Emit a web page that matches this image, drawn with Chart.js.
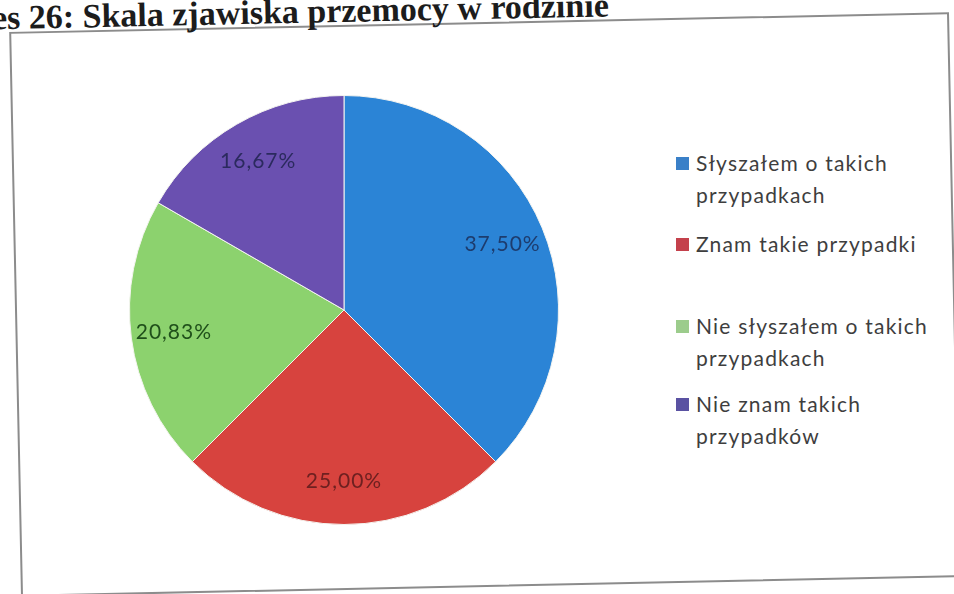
<!DOCTYPE html>
<html>
<head>
<meta charset="utf-8">
<script src="https://cdn.jsdelivr.net/npm/chart.js@4"></script>
<style>
  body { margin: 0; background: #fff; }
  #page { position: relative; width: 954px; height: 594px; overflow: hidden; background: #fff; }
  #frame { position: absolute; left: 15px; top: 22px; width: 936px; height: 561px;
    border: 2px solid #8c8c8c; transform: rotate(-1.2deg); }
  #title { position: absolute; left: -91px; top: 0px; white-space: nowrap;
    font: bold 34px "Liberation Serif", "Times New Roman", serif; line-height: 34px; color: #1c1c1c;
    transform-origin: 145px 28px; transform: rotate(-1.2deg); }
  #pie { position: absolute; left: 129px; top: 95px; width: 430px; height: 430px; }
  .lg { position: absolute; left: 676px; font: 21px Lato, "Open Sans", sans-serif; letter-spacing: 1.2px;
    color: #3e3e3e; line-height: 32px; }
  .lg .sq { position: absolute; left: 0; top: 10px; width: 13px; height: 13px; }
  .lg .tx { margin-left: 20px; }
</style>
</head>
<body>
<div id="page">
  <div id="frame"></div>
  <div id="title">Wykres 26: Skala zjawiska przemocy w rodzinie</div>
  <div id="pie"><canvas id="chart"></canvas></div>
  <div id="legend"></div>
</div>
<script>
// dane
const categories = [
  ["Słyszałem o takich", "przypadkach"],
  ["Znam takie przypadki"],
  ["Nie słyszałem o takich", "przypadkach"],
  ["Nie znam takich", "przypadków"]
];
const values = [37.50, 25.00, 20.83, 16.67];
const sliceColors = ["#2b84d6", "#d7433e", "#8cd26e", "#6a50b0"];
const legendColors = ["#3a80c8", "#c4414c", "#9ccc8c", "#5a52a2"];
const labelColors = ["#1d3c6e", "#6e2020", "#1f4f1a", "#2b2a5e"];

const legendTops = [147, 228, 310, 388];

const fmt = v => v.toFixed(2).replace(".", ",") + "%";

const sliceLabels = {
  id: "sliceLabels",
  afterDatasetsDraw(chart) {
    const ctx = chart.ctx;
    const meta = chart.getDatasetMeta(0);
    ctx.save();
    ctx.font = "21px Lato, 'Open Sans', sans-serif";
    ctx.letterSpacing = "1px";
    ctx.textAlign = "center";
    ctx.textBaseline = "middle";
    meta.data.forEach((arc, i) => {
      const p = arc.getProps(["x", "y", "startAngle", "endAngle", "outerRadius"]);
      const mid = (p.startAngle + p.endAngle) / 2;
      const r = p.outerRadius * 0.8;
      ctx.fillStyle = labelColors[i];
      ctx.fillText(fmt(values[i]), p.x + Math.cos(mid) * r, p.y + Math.sin(mid) * r);
    });
    ctx.restore();
  }
};

new Chart(document.getElementById("chart"), {
  type: "pie",
  data: {
    labels: categories.map(c => c.join(" ")),
    datasets: [{
      data: values,
      backgroundColor: sliceColors,
      borderColor: "#f4f4f0",
      borderWidth: 1
    }]
  },
  options: {
    responsive: true,
    maintainAspectRatio: false,
    animation: false,
    layout: { padding: 0 },
    plugins: {
      legend: { display: false },
      tooltip: { enabled: false }
    }
  },
  plugins: [sliceLabels]
});

// legenda
const legend = document.getElementById("legend");
categories.forEach((lines, i) => {
  const item = document.createElement("div");
  item.className = "lg";
  item.style.top = legendTops[i] + "px";
  item.innerHTML = '<div class="sq" style="background:' + legendColors[i] + '"></div>' +
    lines.map(l => '<div class="tx">' + l + '</div>').join("");
  legend.appendChild(item);
});
</script>
</body>
</html>
